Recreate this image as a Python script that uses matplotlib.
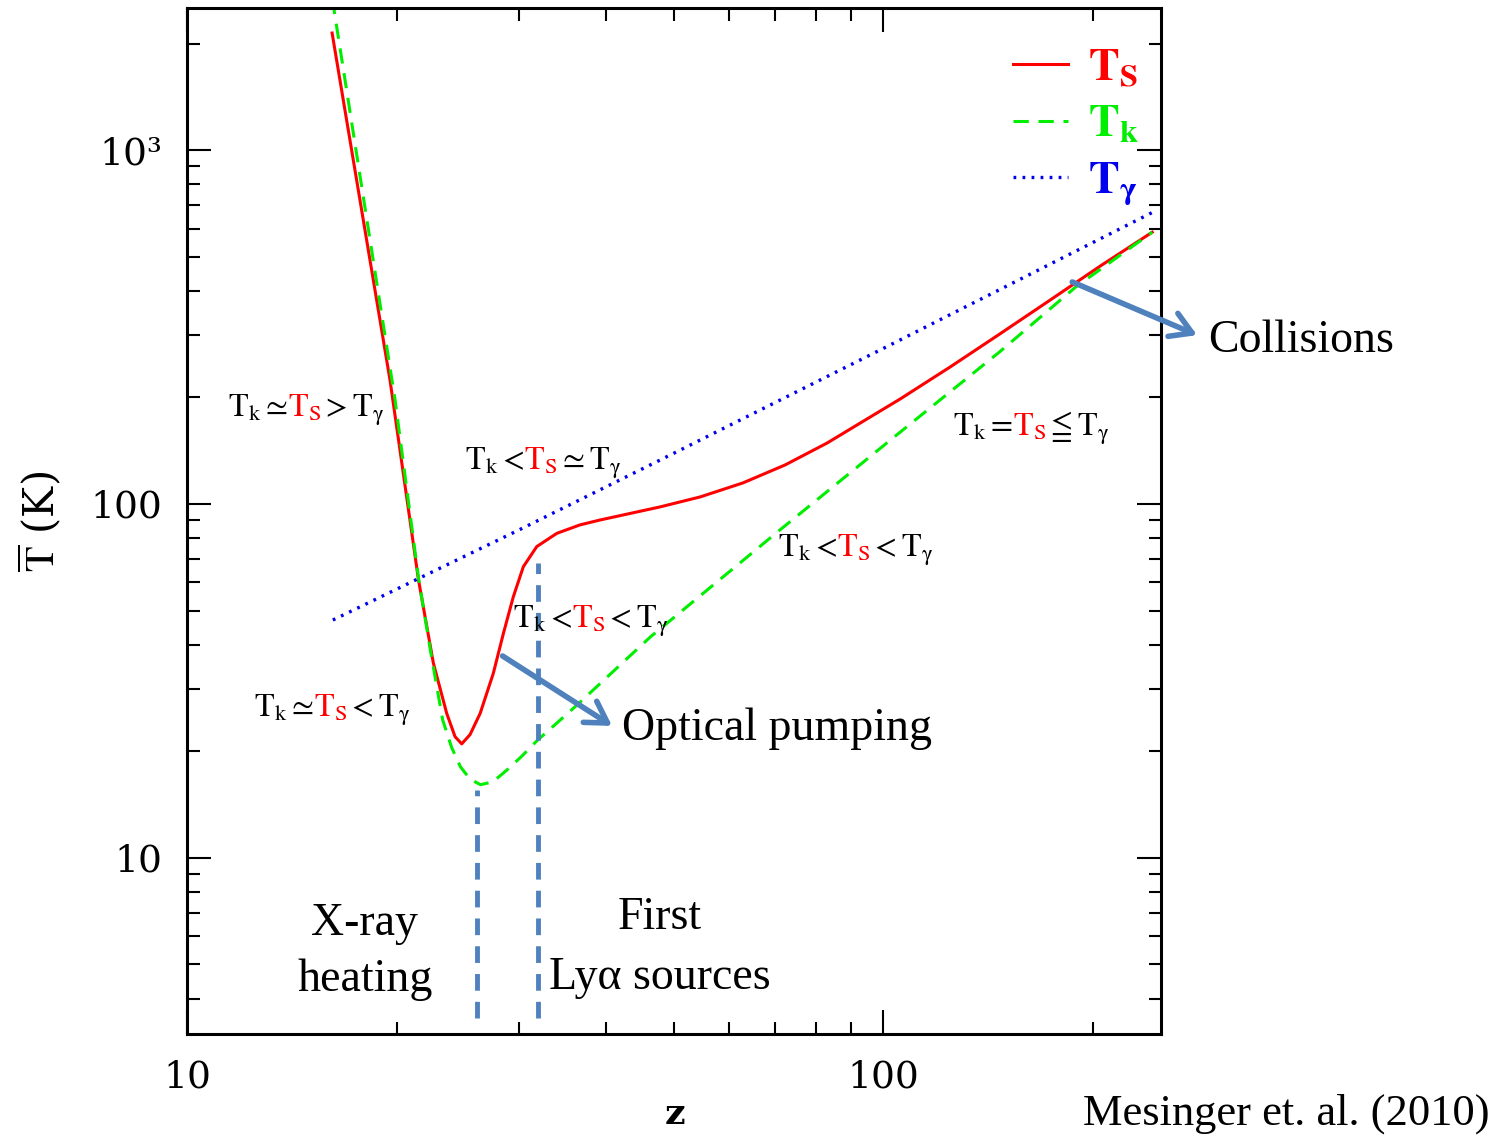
import matplotlib
matplotlib.use("Agg")
import matplotlib.pyplot as plt
from matplotlib.offsetbox import TextArea, HPacker, AnnotationBbox
from matplotlib.ticker import FixedLocator, FixedFormatter, NullFormatter

plt.rcParams.update({
    "font.family": "serif",
    "font.serif": ["Liberation Serif", "DejaVu Serif"],
    "mathtext.fontset": "stix",
    "lines.scale_dashes": False,
})

# ── data ────────────────────────────────────────────────────────────────────
# spin temperature T_S
Z_S = [16.16, 19.57, 21.5, 22.59, 23.61, 24.27, 24.81, 25.5, 26.37, 27.54,
       28.48, 29.43, 30.42, 31.8, 33.98, 36.7, 39.2, 47.8, 54.6, 62.9, 72.3,
       83.1, 92.7, 105.8, 124.8, 147.0, 173.8, 205.0, 243.5]
T_S = [2141, 224, 61.2, 35.5, 25.6, 22.0, 21.0, 22.3, 25.6, 33.2,
       43.1, 54.7, 66.5, 75.8, 82.6, 87.3, 90.1, 98.1, 104.7, 114.7, 128.9,
       148.7, 169.3, 198, 243.8, 302, 377, 470, 586]

# kinetic temperature T_k
Z_K = [16.16, 19.9, 21.5, 22.4, 23.3, 24.0, 24.7, 25.5, 26.4, 27.5, 28.8,
       30.2, 31.8, 36.3, 46.3, 71.1, 105.8, 147.0, 189.0, 243.5]
T_K = [2700, 197, 62, 38, 24.5, 20.5, 18.1, 16.7, 16.1, 16.4, 17.7,
       19.3, 21.4, 27.0, 42.1, 84.5, 159.6, 269, 410, 586]

# CMB temperature T_gamma
Z_G = [16.2, 30.0, 50.0, 100.0, 243.5]
T_G = [47, 84.5, 139, 275, 666]

# epochs marked with vertical dashed lines
EPOCH_Z = [26.1, 31.9]
EPOCH_TOP = [15.6, 68.0]
EPOCH_BOTTOM = 3.53

X_TICKS = [10, 100]
X_TICKLABELS = ["10", "100"]
Y_TICKS = [10, 100, 1000]
Y_TICKLABELS = ["10", "100", "10³"]

RED, GREEN, BLUE, STEEL = "#ff0000", "#00ee00", "#0000ee", "#4f81bd"


def region_label(ax, x, y, parts, size=23):
    boxes = [TextArea(s, textprops=dict(color=c, fontsize=size)) for s, c in parts]
    pack = HPacker(children=boxes, align="baseline", pad=0, sep=0)
    ab = AnnotationBbox(pack, (x, y), xycoords="data", frameon=False,
                        box_alignment=(0, 0.5), pad=0, annotation_clip=False)
    ax.add_artist(ab)


fig = plt.figure(figsize=(15.05, 11.36), dpi=100)
ax = fig.add_axes([187 / 1505, 1 - 1034 / 1136, 974 / 1505, 1026 / 1136])

ax.plot(Z_S, T_S, color=RED, lw=2.2, label=r"$\mathbf{T_S}$")
ax.plot(Z_K, T_K, color=GREEN, lw=2.2, dashes=(11, 7), label=r"$\mathbf{T_k}$")
ax.plot(Z_G, T_G, color=BLUE, lw=2.4, dashes=(2, 4.5), label=r"$\mathbf{T_\gamma}$")

for z, top in zip(EPOCH_Z, EPOCH_TOP):
    ax.plot([z, z], [EPOCH_BOTTOM, top], color=STEEL, lw=3.5, dashes=(12, 8))

ax.set_xscale("log")
ax.set_yscale("log")
ax.set_xlim(10, 250.7)
ax.set_ylim(3.18, 2520)

ax.xaxis.set_major_locator(FixedLocator(X_TICKS))
ax.xaxis.set_major_formatter(FixedFormatter(X_TICKLABELS))
ax.yaxis.set_major_locator(FixedLocator(Y_TICKS))
ax.yaxis.set_major_formatter(FixedFormatter(Y_TICKLABELS))
ax.xaxis.set_minor_formatter(NullFormatter())
ax.yaxis.set_minor_formatter(NullFormatter())
ax.tick_params(which="both", direction="in", top=True, right=True, width=1.5)
ax.tick_params(which="major", length=17, pad=18, labelsize=27,
               labelfontfamily="DejaVu Serif")
ax.tick_params(which="minor", length=9)
for sp in ax.spines.values():
    sp.set_linewidth(2.2)

ax.set_xlabel("z", fontsize=26, fontweight="bold", family="DejaVu Serif",
              va="center")
ax.xaxis.set_label_coords(0.501, -0.078)
ax.set_ylabel(r"$\overline{\mathrm{T}}$ (K)", fontsize=30, family="DejaVu Serif",
              va="center")
ax.yaxis.set_label_coords(-0.152, 0.5)

leg = ax.legend(loc="upper left", bbox_to_anchor=(1013 / 1505, 1 - 48 / 1136),
                bbox_transform=fig.transFigure, frameon=False, fontsize=33,
                handlelength=1.2, handletextpad=0.44, labelspacing=0.3,
                borderpad=0, borderaxespad=0, labelcolor="linecolor")

# regime labels
region_label(ax, 11.45, 184, [(r"$\mathrm{T_k}{\simeq}$", "k"), (r"$\mathrm{T_S}$", RED),
                              (r"${>}\mathrm{T_\gamma}$", "k")])
region_label(ax, 25.1, 130, [(r"$\mathrm{T_k}{<}$", "k"), (r"$\mathrm{T_S}$", RED),
                             (r"${\simeq}\mathrm{T_\gamma}$", "k")])
region_label(ax, 126, 164, [(r"$\mathrm{T_k}{=}$", "k"), (r"$\mathrm{T_S}$", RED),
                            (r"${\leqq}\mathrm{T_\gamma}$", "k")])
region_label(ax, 70.6, 74, [(r"$\mathrm{T_k}{<}$", "k"), (r"$\mathrm{T_S}$", RED),
                            (r"${<}\mathrm{T_\gamma}$", "k")])
region_label(ax, 29.4, 46.5, [(r"$\mathrm{T_k}{<}$", "k"), (r"$\mathrm{T_S}$", RED),
                              (r"${<}\mathrm{T_\gamma}$", "k")])
region_label(ax, 12.5, 26.2, [(r"$\mathrm{T_k}{\simeq}$", "k"), (r"$\mathrm{T_S}$", RED),
                              (r"${<}\mathrm{T_\gamma}$", "k")])

# annotations
arrow = dict(arrowstyle="->, head_length=1.0, head_width=0.6", lw=4, color=STEEL,
             shrinkA=0, shrinkB=0, mutation_scale=15)
ax.annotate("", xy=(40.8, 23.6), xytext=(28.4, 37.2), arrowprops=arrow)
ax.annotate("", xy=(282.5, 300), xytext=(186.9, 424), arrowprops=arrow,
            annotation_clip=False)
ax.text(42.2, 23.1, "Optical pumping", fontsize=33, ha="left", va="center")
ax.text(293, 290, "Collisions", fontsize=33, ha="left", va="center", clip_on=False)
ax.text(18.0, 5.43, "X-ray\nheating", fontsize=33, ha="center", va="center",
        linespacing=1.4)
ax.text(47.8, 5.57, "First\nLyα sources", fontsize=33, ha="center", va="center",
        linespacing=1.55)
fig.text(1490 / 1505, 1 - 1114 / 1136, "Mesinger et. al. (2010)", fontsize=32,
         ha="right", va="center")

fig.savefig("out.png", dpi=100, facecolor="white")
